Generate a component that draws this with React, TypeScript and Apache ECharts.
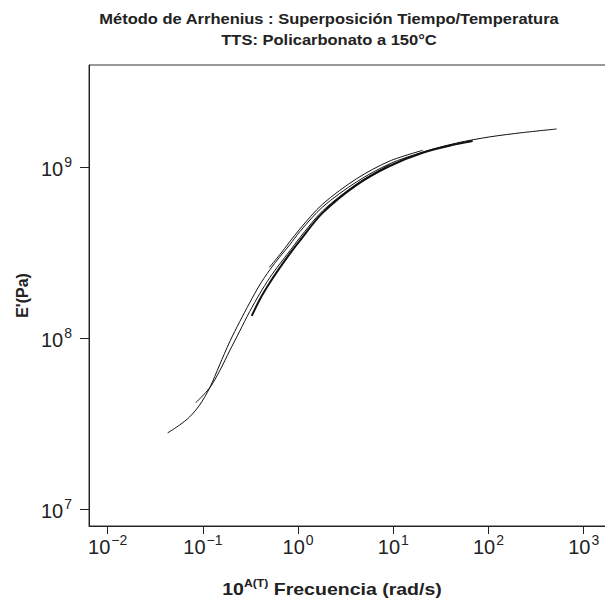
import React, { useEffect, useRef } from "react";
import * as echarts from "echarts";

// Master curve (reference temperature segment)
const mainFreq = [0.0427, 0.057, 0.0726, 0.0925, 0.118, 0.15, 0.191, 0.244, 0.31, 0.395, 0.504, 0.641, 0.817, 1.04, 1.81, 4.13, 9.16, 20.4, 46.3, 103, 229, 520];
const mainMod = [2.79e7, 3.1e7, 3.46e7, 4.06e7, 5.12e7, 6.98e7, 9.51e7, 1.25e8, 1.61e8, 2.05e8, 2.51e8, 2.99e8, 3.52e8, 4.2e8, 5.87e8, 8.24e8, 1.05e9, 1.23e9, 1.39e9, 1.51e9, 1.6e9, 1.68e9];

// Shifted segment A
const segAFreq = [0.0839, 0.118, 0.15, 0.191, 0.244, 0.31, 0.395, 0.504, 0.641, 0.817, 1.04, 1.81, 4.13, 9.16];
const segAMod = [4.18e7, 5.12e7, 6.43e7, 8.43e7, 1.1e8, 1.43e8, 1.82e8, 2.26e8, 2.72e8, 3.24e8, 3.87e8, 5.57e8, 8.01e8, 1.04e9];

// Shifted segment B (thicker)
const segBFreq = [0.326, 0.395, 0.504, 0.641, 0.817, 1.04, 1.81, 4.13, 9.16, 20.4, 46.3, 68.2];
const segBMod = [1.35e8, 1.68e8, 2.11e8, 2.58e8, 3.12e8, 3.72e8, 5.42e8, 7.91e8, 1.02e9, 1.22e9, 1.37e9, 1.43e9];

// Shifted segment C
const segCFreq = [0.5, 0.641, 1.04, 1.81, 4.13, 9.16, 20.4];
const segCMod = [2.6e8, 3.08e8, 4.35e8, 6.1e8, 8.6e8, 1.09e9, 1.26e9];

const xTickValues = [0.01, 0.1, 1, 10, 100, 1000];
const yTickValues = [1e7, 1e8, 1e9];

const titleLines = ["Método de Arrhenius : Superposición Tiempo/Temperatura", "TTS: Policarbonato a 150°C"];
const xNameBase = "10";
const xNameSup = "A(T)";
const xNameRest = " Frecuencia (rad/s)";
const yName = "E'(Pa)";

const FONT = "'Liberation Sans', Arial, Helvetica, sans-serif";

const pairs = (f: number[], e: number[]) => f.map((v, i) => [v, e[i]]);

const supLabel = (v: number) => {
  const exp = Math.round(Math.log10(v));
  const s = exp < 0 ? "\u2212" + Math.abs(exp) : String(exp);
  return `{b|10}{s|${s}}`;
};

const labelRich = {
  b: { fontSize: 20, fontFamily: FONT, color: "#222", lineHeight: 24, verticalAlign: "bottom" },
  s: { fontSize: 14, fontFamily: FONT, color: "#222", lineHeight: 24, verticalAlign: "top", padding: [0, 0, 0, 1] },
};

export default function App() {
  const ref = useRef<HTMLDivElement>(null);
  useEffect(() => {
    if (!ref.current) return;
    const chart = echarts.init(ref.current, undefined, { renderer: "svg" });
    const lineStyle = (w: number) => ({ color: "#111", width: w });
    chart.setOption({
      animation: false,
      backgroundColor: "#fff",
      grid: {
        left: 89,
        top: 65,
        right: -12,
        bottom: 75,
        show: true,
        borderColor: "#333",
        borderWidth: 1,
        containLabel: false,
        outerBoundsMode: "none",
      },
      xAxis: {
        type: "log",
        logBase: 10,
        min: Math.pow(10, -2.196),
        max: Math.pow(10, 3.35),
        axisLine: { show: true, lineStyle: { color: "#222", width: 1 } },
        axisTick: { show: true, length: 8, customValues: xTickValues, lineStyle: { color: "#222" } },
        minorTick: { show: false },
        splitLine: { show: false },
        axisLabel: {
          customValues: xTickValues,
          formatter: supLabel,
          rich: labelRich,
          margin: 7,
          color: "#222",
        },
      },
      yAxis: {
        type: "log",
        logBase: 10,
        min: Math.pow(10, 6.9),
        max: Math.pow(10, 9.6),
        name: yName,
        nameLocation: "middle",
        nameGap: 54,
        nameTextStyle: { fontFamily: FONT, fontWeight: "bold", fontSize: 16, color: "#222" },
        axisLine: { show: true, lineStyle: { color: "#222", width: 1 } },
        axisTick: { show: true, length: 9, customValues: yTickValues, lineStyle: { color: "#222" } },
        minorTick: { show: false },
        splitLine: { show: false },
        axisLabel: {
          customValues: yTickValues,
          formatter: supLabel,
          rich: labelRich,
          margin: 17,
          color: "#222",
        },
      },
      graphic: [
        {
          type: "text",
          x: 329,
          y: 8,
          scaleX: 1.1,
          style: {
            text: titleLines.join("\n"),
            font: `bold 15px ${FONT}`,
            fill: "#222",
            align: "center",
            verticalAlign: "top",
            lineHeight: 21,
          },
        },
        {
          type: "text",
          x: 332,
          y: 588,
          scaleX: 1.22,
          style: {
            text: `{b|${xNameBase}}{s|${xNameSup}}{b|${xNameRest}}`,
            align: "center",
            verticalAlign: "middle",
            fill: "#222",
            rich: {
              b: { fontFamily: FONT, fontWeight: "bold", fontSize: 16, lineHeight: 20, fill: "#222", verticalAlign: "bottom" },
              s: { fontFamily: FONT, fontWeight: "bold", fontSize: 10, lineHeight: 20, fill: "#222", verticalAlign: "top" },
            },
          },
        },
      ],
      series: [
        { type: "line", data: pairs(mainFreq, mainMod), smooth: 0.3, showSymbol: false, lineStyle: lineStyle(1), silent: true },
        { type: "line", data: pairs(segAFreq, segAMod), smooth: 0.3, showSymbol: false, lineStyle: lineStyle(1), silent: true },
        { type: "line", data: pairs(segBFreq, segBMod), smooth: 0.3, showSymbol: false, lineStyle: lineStyle(2), silent: true },
        { type: "line", data: pairs(segCFreq, segCMod), smooth: 0.3, showSymbol: false, lineStyle: lineStyle(1), silent: true },
      ],
    });
    return () => chart.dispose();
  }, []);
  return <div ref={ref} style={{ position: "fixed", left: 0, top: 0, width: 605, height: 601 }} />;
}
